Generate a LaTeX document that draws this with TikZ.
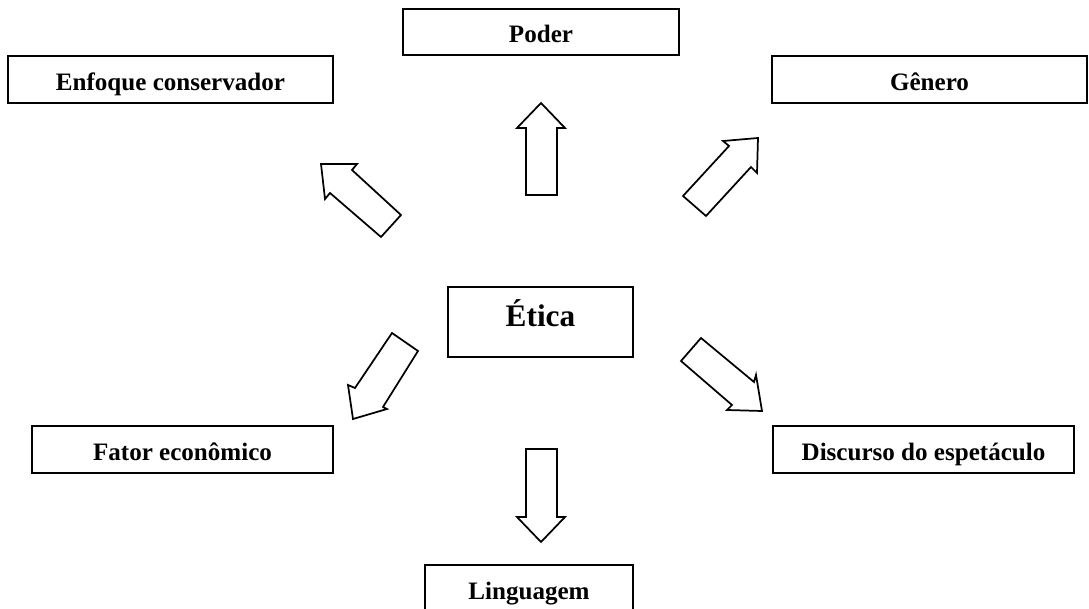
\documentclass[tikz,border=0pt]{standalone}
\usepackage{fontspec}
\setmainfont{Liberation Serif}
\begin{document}
\begin{tikzpicture}[x=0.75pt,y=-0.75pt,
  box/.style={draw,line width=1.4pt,inner sep=0pt,minimum height=35.25pt,
    text height=16.2pt,text depth=0pt,
    font=\bfseries\fontsize{18.8}{22}\selectfont},
  bigbox/.style={box,text height=7.5pt,text depth=0pt,font=\bfseries\fontsize{23.5}{28}\selectfont},
  blockarrow/.style={draw,line width=1.3pt,line join=miter,fill=white}]
\useasboundingbox (0,0) rectangle (1089,609);
\node[box,minimum width=243.75pt] (enfoque) at (170.5,79.5) {Enfoque conservador};
\node[box,minimum width=207pt,minimum height=34.5pt] (poder) at (541,32) {Poder};
\node[box,minimum width=236.25pt] (genero) at (929.5,79.5) {Gênero};
\node[bigbox,minimum width=138.75pt,minimum height=52.5pt] (etica) at (540.5,322) {Ética};
\node[box,minimum width=225.75pt] (fator) at (182.5,449.5) {Fator econômico};
\node[box,minimum width=225.75pt] (discurso) at (923.5,449.5) {Discurso do espetáculo};
\node[box,minimum width=156pt] (linguagem) at (529,588.5) {Linguagem};
% block arrows
\draw[blockarrow] (541,103) -- (565,128) -- (557,128) -- (557,195) -- (526,195) -- (526,128) -- (517,128) -- cycle;
\draw[blockarrow] (541,542) -- (565,517) -- (557,517) -- (557,449) -- (526,449) -- (526,517) -- (517,517) -- cycle;
\draw[blockarrow] (321,164) -- (357,164) -- (352,170) -- (401,215) -- (381,237) -- (330,193) -- (325,199) -- cycle;
\draw[blockarrow] (758,138) -- (723,141) -- (729,146) -- (683,196) -- (706,216) -- (751,167) -- (757,173) -- cycle;
\draw[blockarrow] (353,419) -- (348,385) -- (355,388) -- (392,333) -- (418,351) -- (383,407) -- (387,409) -- cycle;
\draw[blockarrow] (762,411) -- (756,375) -- (754,382) -- (701,338) -- (681,361) -- (732,405) -- (727,410) -- cycle;
\end{tikzpicture}
\end{document}
